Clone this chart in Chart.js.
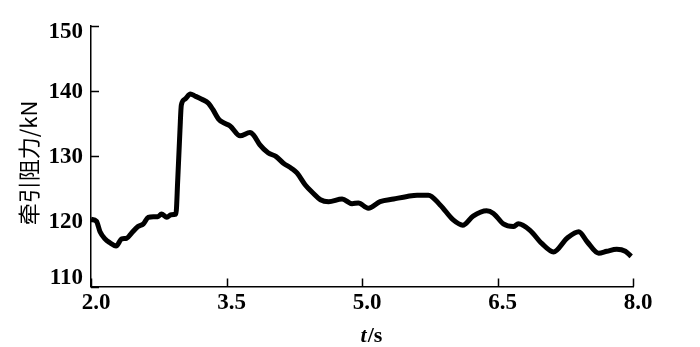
<!DOCTYPE html>
<html lang="zh">
  <head>
    <meta charset="UTF-8" />
    <title>牵引阻力</title>
    <script src="https://cdn.jsdelivr.net/npm/chart.js"></script>
    <style>
      html, body { margin: 0; padding: 0; background: #fff; }
      #wrap { width: 700px; height: 347px; }
    </style>
  </head>
  <body>
    <div id="wrap"><canvas id="forceChart"></canvas></div>

    <script>
      // time (s) and traction resistance (kN)
      const times = [
        2.0, 2.06, 2.1, 2.155, 2.21, 2.277, 2.34, 2.395, 2.45, 2.52, 2.58,
        2.634, 2.69, 2.74, 2.78, 2.84, 2.886, 2.94, 2.96, 2.985, 3.0, 3.04,
        3.1, 3.15, 3.226, 3.3, 3.35, 3.41, 3.465, 3.54, 3.65, 3.76, 3.8,
        3.87, 3.96, 4.05, 4.13, 4.22, 4.28, 4.37, 4.46, 4.54, 4.63, 4.78,
        4.89, 4.96, 5.07, 5.2, 5.35, 5.5, 5.61, 5.735, 5.865, 6.01, 6.115,
        6.23, 6.38, 6.455, 6.565, 6.675, 6.73, 6.86, 6.99, 7.12, 7.27, 7.4,
        7.49, 7.62, 7.71, 7.82, 7.915, 7.98,
      ];
      const force = [
        120.3, 120.0, 118.4, 117.3, 116.7, 116.2, 117.3, 117.4, 118.2, 119.2, 119.6,
        120.6, 120.7, 120.7, 121.1, 120.6, 121.0, 121.1, 126.3, 134.0, 137.8, 138.7,
        139.5, 139.2, 138.7, 138.1, 137.1, 135.7, 135.1, 134.6, 133.1, 133.6, 133.2,
        131.7, 130.5, 129.9, 128.9, 128.1, 127.4, 125.6, 124.3, 123.3, 123.0, 123.4,
        122.7, 122.8, 122.0, 123.0, 123.4, 123.8, 124.0, 124.0, 122.5, 120.2, 119.4,
        120.8, 121.6, 121.2, 119.6, 119.2, 119.6, 118.6, 116.6, 115.3, 117.4, 118.4,
        116.9, 115.1, 115.4, 115.7, 115.4, 114.6,
      ];
      const xTicks = [2.0, 3.5, 5.0, 6.5, 8.0];
      const yTicks = [110, 120, 130, 140, 150];

      const serif = "'Liberation Serif', serif";
      const tickFont = { family: serif, size: 23, weight: "bold" };

      // inner tick marks, y labels kept inside the axis span, axis titles
      const axisDecor = {
        id: "axisDecor",
        afterDraw(chart) {
          const { ctx, chartArea, scales } = chart;
          ctx.save();
          ctx.strokeStyle = "#000";
          ctx.lineWidth = 1.5;
          ctx.beginPath();
          yTicks.forEach((v) => {
            const py = Math.round(scales.y.getPixelForValue(v)) + 0.5;
            ctx.moveTo(chartArea.left, py);
            ctx.lineTo(chartArea.left + 8, py);
          });
          xTicks.forEach((v) => {
            const px = Math.round(scales.x.getPixelForValue(v)) + 0.5;
            ctx.moveTo(px, chartArea.bottom);
            ctx.lineTo(px, chartArea.bottom - 8);
          });
          ctx.stroke();

          // y tick labels (end ones pulled inside the axis like the original)
          ctx.fillStyle = "#000";
          ctx.font = "bold 23px " + serif;
          ctx.textAlign = "right";
          ctx.textBaseline = "middle";
          yTicks.forEach((v) => {
            let py = scales.y.getPixelForValue(v) + 1;
            py = Math.min(Math.max(py, chartArea.top + 7), chartArea.bottom - 8.5);
            ctx.fillText(String(v), chartArea.left - 8, py);
          });

          // x title: t/s
          ctx.textBaseline = "alphabetic";
          ctx.textAlign = "left";
          const italic = "italic bold 22px " + serif;
          const upright = "bold 22px " + serif;
          ctx.font = italic;
          const wT = ctx.measureText("t").width;
          ctx.font = upright;
          const wS = ctx.measureText("/s").width;
          const x0 = 371 - (wT + wS) / 2;
          ctx.font = italic;
          ctx.fillText("t", x0, 342);
          ctx.font = upright;
          ctx.fillText("/s", x0 + wT + 1, 342);

          // y title
          ctx.translate(29, 163);
          ctx.rotate(-Math.PI / 2);
          ctx.textAlign = "center";
          ctx.textBaseline = "middle";
          ctx.font = "22px 'Noto Sans CJK SC'";
          ctx.fillText("牵引阻力/kN", 0, 0);
          ctx.restore();
        },
      };

      const ctx = document.getElementById("forceChart").getContext("2d");
      new Chart(ctx, {
        type: "line",
        data: {
          datasets: [
            {
              data: times.map((t, i) => ({ x: t, y: force[i] })),
              borderColor: "#000",
              borderWidth: 5,
              pointRadius: 0,
              cubicInterpolationMode: "monotone",
              fill: false,
              clip: false,
            },
          ],
        },
        options: {
          responsive: true,
          maintainAspectRatio: false,
          animation: false,
          layout: { padding: { top: 25.5, right: 67, left: 0, bottom: 0 } },
          plugins: { legend: { display: false }, tooltip: { enabled: false } },
          scales: {
            x: {
              type: "linear",
              min: 2,
              max: 8,
              afterBuildTicks: (scale) => {
                scale.ticks = xTicks.map((v) => ({ value: v }));
              },
              afterFit: (scale) => {
                scale.height = 60.5;
              },
              grid: { display: false, drawTicks: false },
              border: { display: true, color: "#000", width: 1.5 },
              ticks: {
                color: "#000",
                font: tickFont,
                padding: 3,
                labelOffset: 5,
                maxRotation: 0,
                callback: (v) => Number(v).toFixed(1),
              },
            },
            y: {
              min: 110,
              max: 150,
              afterBuildTicks: (scale) => {
                scale.ticks = yTicks.map((v) => ({ value: v }));
              },
              afterFit: (scale) => {
                scale.width = 91;
              },
              grid: { display: false, drawTicks: false },
              border: { display: true, color: "#000", width: 1.5 },
              ticks: { display: false },
            },
          },
        },
        plugins: [axisDecor],
      });
    </script>
  </body>
</html>
